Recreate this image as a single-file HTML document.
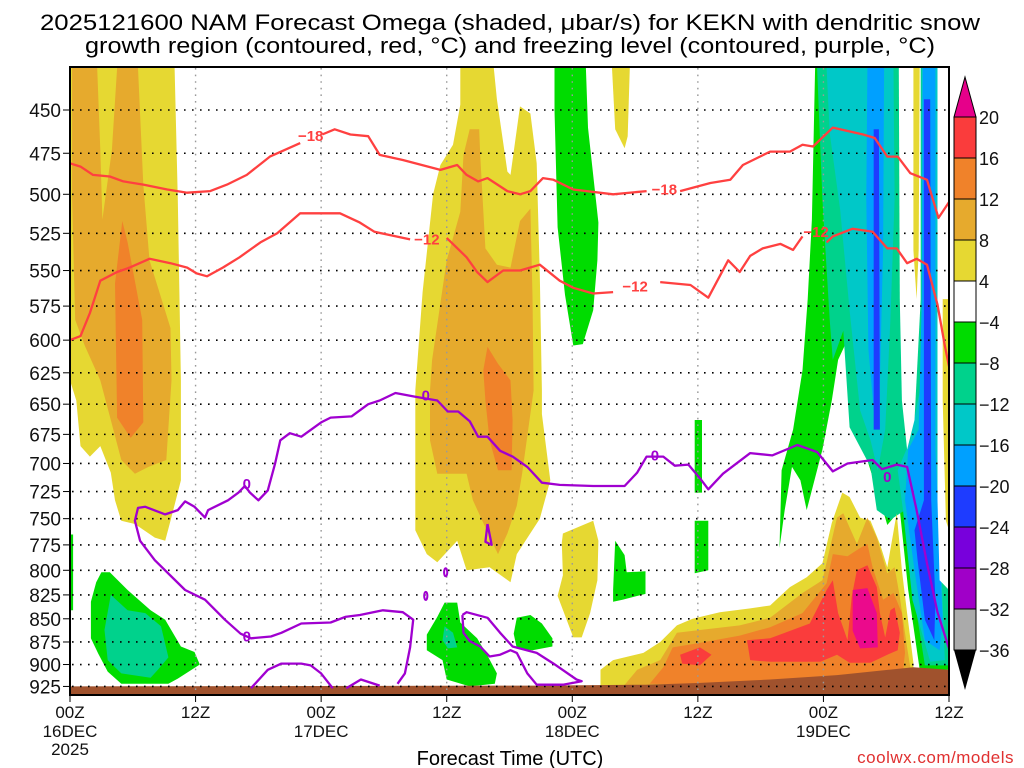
<!DOCTYPE html>
<html><head><meta charset="utf-8"><style>
html,body{margin:0;padding:0;background:#fff;}
svg{display:block;font-family:"Liberation Sans",sans-serif;}
</style></head><body>
<svg id="chart" width="1024" height="768" viewBox="0 0 1024 768" xmlns="http://www.w3.org/2000/svg">
<defs><clipPath id="plotclip"><rect x="70" y="67" width="879" height="628"/></clipPath></defs>
<rect x="0" y="0" width="1024" height="768" fill="#fff"/>
<text x="510" y="30" font-size="22" text-anchor="middle" textLength="940" lengthAdjust="spacingAndGlyphs">2025121600 NAM Forecast Omega (shaded, μbar/s) for KEKN with dendritic snow</text>
<text x="510" y="53" font-size="22" text-anchor="middle" textLength="850" lengthAdjust="spacingAndGlyphs">growth region (contoured, red, °C) and freezing level (contoured, purple, °C)</text>
<g id="shading" clip-path="url(#plotclip)"></g>
<g id="grid"></g>
<g id="lines" clip-path="url(#plotclip)"></g>
<g id="axes"></g>
<g id="cbar"></g>
<text x="510" y="765" font-size="20" text-anchor="middle">Forecast Time (UTC)</text>
<text x="1014" y="763" font-size="17" text-anchor="end" fill="#e03030" letter-spacing="0.5">coolwx.com/models</text>
</svg>
<script>
// ---- axes ----
const hourMin = 0, hourMax = 84;
const pTop = 426.5, pBottom = 934;
const pressureTicks = [450,475,500,525,550,575,600,625,650,675,700,725,750,775,800,825,850,875,900,925];
const timeTicks = [0,12,24,36,48,60,72,84];
const timeLabels = ["00Z","12Z","00Z","12Z","00Z","12Z","00Z","12Z"];
const dateLabels = ["16DEC","","17DEC","","18DEC","","19DEC",""];
const yearLabel = "2025";
const cbarLevels = [20,16,12,8,4,-4,-8,-12,-16,-20,-24,-28,-32,-36];
const cbarColors = ["#fa3c3c","#f0822a","#e6aa2d","#e6d832","#ffffff","#00dc00","#00d28c","#00c8c8","#00a0ff","#1e3cff","#7800dc","#a000c8","#aaaaaa"];

function X(h){ return 70 + (h - hourMin) * (879 / (hourMax - hourMin)); }
function Y(p){ return 110 + 800 * Math.log(p / 450); }

// ---- shaded omega regions [hour, hPa] ----
const leftYellow = [[0,427],[10,427],[10.3,503],[10.6,631],[10.6,715],[9.6,752],[9.1,771],[8.1,768],[6.2,755],[4.9,752],[4.3,733],[3.9,708],[2.9,685],[1.9,694],[1,685],[0.6,647],[0,631]];
const leftAmber = [[0.2,427],[6.5,427],[7,494],[7.6,543],[9.6,591],[9.7,631],[9.2,697],[7.5,703],[6.2,709],[4.9,697],[3.9,663],[2.9,631],[1.4,604],[0.5,585],[0.2,503]];
const leftYellowStrip = [[2.6,427],[4.5,427],[4,473],[3.1,516],[2.9,473]];
const leftOrange = [[5,517],[5.5,531],[6.9,585],[7,665],[5.8,678],[4.5,661],[4.3,559]];
const midYellow = [[37.3,427],[40.5,427],[40.8,444],[41.8,486],[42.1,488],[43,448],[44,452],[44.6,481],[44.9,553],[45.1,639],[45.1,658],[45.9,715],[44.9,750],[42.7,784],[42.1,812],[40.1,797],[37.9,800],[37,771],[35.1,792],[34.1,784],[33,761],[33,639],[33.7,565],[34.7,500],[35.4,482],[36.6,470],[37.3,447]];
const midAmber = [[38.2,461],[39.1,461],[39.2,476],[39.7,535],[40.8,546],[42.1,548],[43,517],[44,509],[44.2,568],[44.3,639],[43.2,709],[42.7,738],[41.8,764],[40.9,784],[39.5,754],[38.5,733],[37.9,709],[35.1,709],[34.4,680],[34.4,639],[34.6,615],[36,543],[36.6,528],[37.3,511],[37.6,476]];
const midOrange = [[39.9,605],[40.9,618],[42.1,631],[42.3,663],[42.2,706],[40.9,706],[40.1,680],[39.7,647],[39.5,623]];
const midGreen = [[46.3,427],[49.3,427],[49.5,460],[50.5,518],[50.4,543],[50,578],[49,603],[48.1,604],[47.3,567],[46.6,521],[46.3,450]];
const smallYellowTop = [[51.8,427],[53.5,427],[53.3,465],[53,472],[52.1,461]];
const lowMidYellow = [[47.1,764],[50,752],[50.5,771],[50.4,810],[49.7,844],[48.9,870],[48.1,870],[46.6,826],[47.1,805],[47,773]];
const lowMidGreen = [[52.1,771],[53,785],[53.2,802],[55,801],[55,824],[52.8,830],[51.9,832],[51.9,820]];
const blobGreen = [[35.8,833],[37,833],[37.3,854],[38.9,871],[39.9,890],[40.8,910],[40.6,922],[38.2,925],[36,917],[35.6,895],[34.1,884],[34.1,867],[35.1,848]];
const blobTeal = [[35.8,858],[36.6,865],[37,881],[36.1,882],[35.6,873]];
const blobGreen2 = [[42.7,849],[44,846],[45.1,855],[46.1,871],[46.1,880],[44.2,884],[42.7,882],[42.4,866]];
const thinGreenA = [[59.7,663],[60.4,663],[60.4,726],[59.7,726]];
const thinGreenB = [[59.7,752],[61,752],[61,800],[59.7,803]];
const leftGreen = [[3,802],[3.8,802],[5.5,820],[7.7,841],[9.1,851],[10.6,880],[11.9,886],[12.4,900],[10.3,916],[9.4,922],[4.9,922],[3.6,908],[2.7,888],[2,871],[2,832],[2.5,812]];
const leftTeal = [[3.9,825],[5.5,841],[7.2,844],[8.7,858],[9.4,892],[8.4,906],[7.7,915],[4.9,910],[3.6,895],[3.3,862]];
const edgeGreen = [[0,765],[0.3,765],[0.3,841],[0,841]];
const rightGreen = [[71.2,427],[84,427],[84,906],[81.2,906],[80.1,820],[79.3,742],[78.1,756],[77.2,726],[76.5,706],[75,663],[74.1,603],[73.4,615],[72.8,647],[71.9,688],[70.4,742],[69.8,715],[69,703],[68.3,742],[67.8,778],[68,706],[69.1,671],[70,623],[70.5,570],[70.9,516]];
const rightTeal = [[71.4,427],[84,427],[84,901],[81.7,901],[80.7,830],[79.8,742],[78.4,751],[77.1,742],[76.5,703],[74.5,669],[73.9,593],[72.9,615],[72.6,585],[71.9,503]];
const rightCyanA = [[72.3,427],[78.7,427],[78.8,503],[78.4,585],[77.9,671],[77.2,706],[76.5,680],[75.5,655],[74.5,578],[73.6,510],[72.6,463]];
const rightCyanB = [[81.4,427],[82.9,427],[82.9,570],[83.1,752],[83.6,895],[82.2,897],[80.5,830],[79.6,742],[79.1,706],[80.3,680],[81.4,631]];
const rightBlueA = [[76.2,427],[77.8,427],[77.7,536],[77.4,631],[76.9,663],[76.3,607],[76.1,503]];
const rightBlueB = [[81.5,427],[82.7,427],[82.7,536],[82.7,688],[83,752],[83.4,851],[83.1,884],[81.7,873],[80.7,800],[79.8,733],[80.1,688],[81.1,671],[81.4,570]];
const darkBlueA = [[76.8,461],[77.3,461],[77.4,671],[76.8,671]];
const darkBlueB = [[81.6,444],[82.2,444],[82.3,733],[82.7,830],[82.6,873],[81.7,851],[81,790],[80.7,761],[81.6,733]];
const gapWhiteA = [[79.2,427],[81.3,427],[81.3,570],[80.7,663],[80,688],[79.5,647],[79.3,570]];
const gapYellowA = [[80.6,427],[81.2,427],[81.1,536],[80.9,570],[80.6,536]];
const gapWhiteB = [[82.9,427],[84,427],[84,820],[83.1,810],[82.9,733],[82.9,570]];
const gapYellowB = [[83.4,570],[84,570],[84,761],[83.7,752],[83.4,647]];
const warmYellow = [[50.7,929],[50.7,906],[51.9,895],[54.8,887],[56.4,875],[58,857],[59.5,850],[62.1,843],[65,839],[66.9,836],[68.8,817],[70.4,807],[71.9,793],[72.8,754],[73.8,726],[74.5,730],[75.5,749],[76.5,752],[77.4,774],[78.1,797],[79,745],[79.5,800],[80,844],[80.6,898],[80.6,929]];
const warmAmber = [[52.6,929],[54.2,906],[56.4,895],[58,865],[60.2,862],[64,857],[66.9,849],[70,823],[71.9,810],[73.3,749],[73.9,745],[75.2,774],[76.2,749],[77.1,768],[78.1,803],[78.8,797],[79.3,827],[80,881],[80.3,903],[80.3,929]];
const warmOrange = [[55.4,922],[56.7,903],[57.6,881],[60.2,876],[64,868],[66.9,859],[70,844],[72.3,813],[72.9,784],[74.3,786],[75.5,778],[76.2,774],[76.7,797],[77.7,830],[78.7,823],[79.5,844],[79.8,887],[79.6,908],[69.8,920],[60.2,923]];
const warmRed = [[64.7,873],[66.9,871],[70.7,855],[72.3,820],[72.9,810],[73.4,844],[74.3,873],[74.7,827],[75.2,800],[76.2,795],[77.1,817],[77.4,844],[77.9,870],[78.4,841],[78.8,838],[79.3,865],[79.1,884],[78.1,889],[76.5,898],[74.5,898],[73.3,889],[71.7,897],[66.9,897],[65,895]];
const warmRedLeft = [[58.3,889],[60.2,881],[61.3,889],[60.2,901],[58.5,899]];
const warmPink = [[74.8,820],[76.2,818],[77.1,844],[77.2,881],[75.5,882],[74.8,863]];
const terrain = [[0,925],[45,924],[55,923],[60,921],[66.9,917],[73.3,912],[80.6,903],[84,906]];

// ---- contour lines [hour, hPa] ----
const line18a = [[0,481],[1,483],[2.2,488],[3.8,489],[5.1,492],[7,494],[9.3,497],[11.2,499],[13.4,498],[15,494],[16.9,488],[19.1,477],[22,469]];
const line18b = [[24.1,464],[25.3,461],[26.8,464],[28.5,465],[29.6,476],[31.8,479],[35.4,485],[37,482],[37.9,488],[39,492],[39.9,490],[41.8,498],[43,500],[44,498],[45.2,490],[46.2,491],[48.1,497],[51.9,500],[55.1,498]];
const line18c = [[58.3,498],[61.2,493],[63.1,491],[64.3,482],[66.9,474],[68.8,474],[70,470],[71,471],[72.9,460],[75.8,464],[76.9,466],[78.1,477],[79.1,477],[80.3,487],[81.9,491],[83,515],[84,505]];
const line12a = [[0,600],[1,597],[1.9,580],[2.9,557],[4.5,551],[5.7,548],[7.6,542],[9.6,545],[11.2,548],[12.1,552],[13.1,554],[14.6,548],[16.2,541],[18.2,531],[19.8,525],[22,512],[24.2,512],[25.8,512],[27.7,518],[29.1,524],[32.5,529]];
const line12b = [[36,528],[37.9,541],[38.9,551],[39.9,558],[41.4,550],[43,550],[44.9,546],[46.8,557],[48.1,562],[50,566],[51.9,565]];
const line12c = [[56.4,558],[59.3,560],[61,569],[62.9,543],[64,551],[65,540],[66.2,535],[67.9,532],[69.1,536],[70,527]];
const line12d = [[72.3,531],[72.9,527],[74.8,522],[76.7,524],[78.1,535],[79,535],[80,545],[80.9,542],[81.9,546],[82.9,574],[83.6,604],[84,620]];
const freezeMain = [[31.3,922],[32,910],[32.5,881],[32.8,851],[31.8,843],[29.9,841],[27.7,846],[26.3,848],[24.9,854],[22.1,855],[20.2,865],[19.2,869],[17.3,871],[16.3,866],[14.8,851],[12.9,830],[11,820],[8.1,790],[6.7,771],[6.2,752],[6.5,740],[7.2,739],[9.1,746],[10.3,742],[11,734],[11.9,739],[12.9,749],[13.2,742],[15.1,733],[16.1,726],[16.7,720],[17.2,726],[18,733],[18.9,724],[19.6,700],[20.1,680],[21,674],[22.1,677],[24,665],[24.9,661],[26.9,660],[28.5,650],[29.6,647],[31.1,641],[33,644],[35.1,647],[36.1,656],[37.1,656],[38.2,664],[39,677],[39.9,677],[41.1,689],[42.3,694],[43.7,703],[45.1,717],[46.8,719],[50,720],[53,720],[54.2,708],[55.1,694],[56.7,694],[57.8,702],[59.1,701],[60.2,713],[61,723],[62.4,709],[65,691],[67.1,693],[69.5,684],[71.4,690],[72.9,707],[74.3,700],[76.7,697],[77.6,705],[79,701],[80,703],[80.9,742],[81.9,793],[82.9,843],[84,882]];
const freezeArcA = [[17.3,927],[18.9,906],[20.2,899],[22.1,899],[23,901],[24,910],[25.1,927]];
const freezeArcB = [[26.4,927],[27.8,917],[29.6,924]];
const freezeLoop = [[37.5,846],[37.9,843],[39.9,849],[41.1,865],[42.3,880],[44.6,887],[46.2,899],[48.4,917],[48.9,919],[47.1,923],[44.6,923],[43.7,910],[42.7,887],[42.1,884],[41.1,889],[40.1,891],[39.2,880],[38.2,874],[37.6,865],[37.5,846]];
const freezeTri = [[39.9,755],[40.3,775],[39.7,772],[39.9,755]];
const freezeDots = [[35.9,802],[34,826]];
const labels18 = [[23,465],[56.8,497]];
const labels12 = [[34.1,529],[54,561],[71.3,524]];
const labels0 = [[16.9,869],[16.9,718],[34,643],[55.9,693],[78.1,712]];

const NS = "http://www.w3.org/2000/svg";
function mk(tag, attrs, parent){
  const e = document.createElementNS(NS, tag);
  for (const k in attrs) e.setAttribute(k, attrs[k]);
  parent.appendChild(e);
  return e;
}
function pts(arr){ return arr.map(d => X(d[0]).toFixed(1) + "," + Y(d[1]).toFixed(1)).join(" "); }

const shading = document.getElementById("shading");
const regions = [
  [leftYellow,"#e6d832","left-yellow-region"],[leftAmber,"#e6aa2d","left-amber-region"],[leftYellowStrip,"#e6d832","left-yellow-strip"],[leftOrange,"#f0822a","left-orange-core"],
  [midYellow,"#e6d832","mid-yellow-region"],[midAmber,"#e6aa2d","mid-amber-region"],[midOrange,"#f0822a","mid-orange-core"],
  [midGreen,"#00dc00","mid-green-column"],[smallYellowTop,"#e6d832","small-yellow-top"],[lowMidYellow,"#e6d832","low-mid-yellow"],[lowMidGreen,"#00dc00","low-mid-green"],
  [blobGreen,"#00dc00","blob-green"],[blobTeal,"#00d28c","blob-teal"],[blobGreen2,"#00dc00","blob-green-2"],[thinGreenA,"#00dc00","thin-green-a"],[thinGreenB,"#00dc00","thin-green-b"],
  [leftGreen,"#00dc00","left-green-blob"],[leftTeal,"#00d28c","left-teal-blob"],[edgeGreen,"#00dc00","edge-green"],
  [rightGreen,"#00dc00","right-green-region"],[rightTeal,"#00d28c","right-teal-region"],[rightCyanA,"#00c8c8","right-cyan-a"],[rightCyanB,"#00c8c8","right-cyan-b"],
  [rightBlueA,"#00a0ff","right-blue-a"],[rightBlueB,"#00a0ff","right-blue-b"],[darkBlueA,"#1e3cff","dark-blue-a"],[darkBlueB,"#1e3cff","dark-blue-b"],
  [gapWhiteA,"#ffffff","gap-white-a"],[gapYellowA,"#e6d832","gap-yellow-a"],[gapWhiteB,"#ffffff","gap-white-b"],[gapYellowB,"#e6d832","gap-yellow-b"],
  [warmYellow,"#e6d832","warm-yellow"],[warmAmber,"#e6aa2d","warm-amber"],[warmOrange,"#f0822a","warm-orange"],[warmRed,"#fa3c3c","warm-red"],[warmRedLeft,"#fa3c3c","warm-red-left"],[warmPink,"#eb0a8c","warm-pink"]
];
regions.forEach(r => {
  const el = mk("polygon", {points: pts(r[0]), fill: r[1]}, shading);
  
  
});
const groundPts = terrain.concat([[84,pBottom],[0,pBottom]]);
const ground = mk("polygon", {points: pts(groundPts), fill: "#a0522d"}, shading);



// grid
const grid = document.getElementById("grid");
pressureTicks.forEach(p => {
  const g = mk("line", {x1: 72, x2: 947, y1: Y(p), y2: Y(p), stroke: "#000", "stroke-width": 1.6, "stroke-dasharray": "1.6 6.4"}, grid);
  
  
});
timeTicks.slice(1, -1).forEach(h => {
  const g = mk("line", {x1: X(h), x2: X(h), y1: 68, y2: 694, stroke: "#999", "stroke-width": 1.4, "stroke-dasharray": "1.6 5"}, grid);
  
  
});

// lines
const lines = document.getElementById("lines");
function drawLine(arr, color, name){
  const el = mk("polyline", {points: pts(arr), fill: "none", stroke: color, "stroke-width": 2.3, "stroke-linejoin": "round"}, lines);
  
  
}
[line18a,line18b,line18c].forEach(l => drawLine(l, "#ff4040", "minus18-isotherm"));
[line12a,line12b,line12c,line12d].forEach(l => drawLine(l, "#ff4040", "minus12-isotherm"));
[freezeMain,freezeArcA,freezeArcB,freezeLoop,freezeTri].forEach(l => drawLine(l, "#a000d0", "freezing-level-contour"));
freezeDots.forEach(d => {
  const el = mk("ellipse", {cx: X(d[0]), cy: Y(d[1]), rx: 1.6, ry: 4, fill: "none", stroke: "#a000d0", "stroke-width": 2}, lines);
  
  
});
function drawLabel(d, txt, color, name){
  const el = mk("text", {x: X(d[0]), y: Y(d[1]) + 5, fill: color, "font-size": 15, "font-weight": "bold", "text-anchor": "middle"}, lines);
  el.textContent = txt;
  
  
}
labels18.forEach(d => drawLabel(d, "−18", "#ff4040", "isotherm-label"));
labels12.forEach(d => drawLabel(d, "−12", "#ff4040", "isotherm-label"));
labels0.forEach(d => drawLabel(d, "0", "#a000d0", "freezing-level-label"));

// axes
const axes = document.getElementById("axes");
const frame = mk("rect", {x: 70, y: 67, width: 879, height: 628, fill: "none", stroke: "#000", "stroke-width": 2}, axes);


pressureTicks.forEach(p => {
  const t = mk("line", {x1: 63, x2: 70, y1: Y(p), y2: Y(p), stroke: "#000", "stroke-width": 1}, axes);
  
  
  const l = mk("text", {x: 61, y: Y(p) + 7, "font-size": 19, "text-anchor": "end", fill: "#111"}, axes);
  l.textContent = p;
  
  
});
timeTicks.forEach((h, i) => {
  const t = mk("line", {x1: X(h), x2: X(h), y1: 695, y2: 702, stroke: "#000", "stroke-width": 1}, axes);
  
  
  const l = mk("text", {x: X(h), y: 718, "font-size": 17, "text-anchor": "middle", fill: "#111"}, axes);
  l.textContent = timeLabels[i];
  
  
  if (dateLabels[i]) {
    const d = mk("text", {x: X(h), y: 737, "font-size": 17, "text-anchor": "middle", fill: "#111"}, axes);
    d.textContent = dateLabels[i];
    
    
  }
});
const yr = mk("text", {x: X(0), y: 755, "font-size": 17, "text-anchor": "middle", fill: "#111"}, axes);
yr.textContent = yearLabel;



// colorbar
const cbar = document.getElementById("cbar");
const cbTop = 117, cbStep = 41, cbX = 954, cbW = 22;
const triTop = mk("polygon", {points: `${cbX},${cbTop} ${cbX+cbW},${cbTop} ${cbX+cbW/2},${cbTop-40}`, fill: "#e6008a", stroke: "#000", "stroke-width": 1}, cbar);


cbarColors.forEach((c, i) => {
  const r = mk("rect", {x: cbX, y: cbTop + i*cbStep, width: cbW, height: cbStep, fill: c, stroke: "#000", "stroke-width": 1}, cbar);
  
  
});
const yBot = cbTop + cbarColors.length*cbStep;
const triBot = mk("polygon", {points: `${cbX},${yBot} ${cbX+cbW},${yBot} ${cbX+cbW/2},${yBot+40}`, fill: "#000"}, cbar);


cbarLevels.forEach((v, i) => {
  const t = mk("text", {x: 979, y: cbTop + i*cbStep + 7, "font-size": 18, fill: "#111"}, cbar);
  t.textContent = v < 0 ? "−" + Math.abs(v) : String(v);
  
  
});
</script>
</body></html>
